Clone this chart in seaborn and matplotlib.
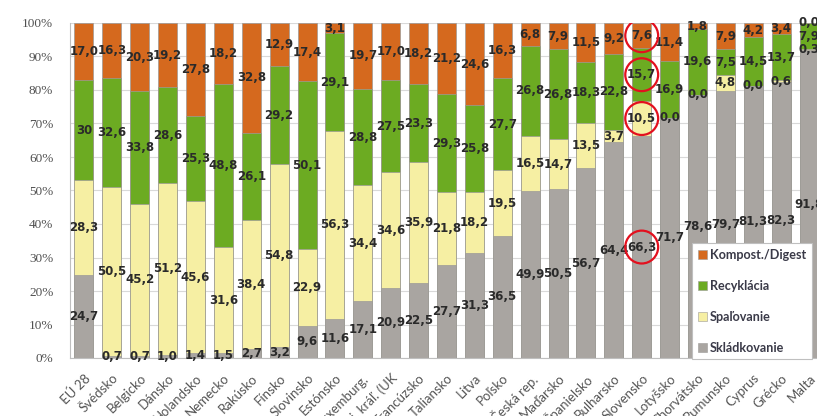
import matplotlib
matplotlib.use("Agg")
import matplotlib.pyplot as plt
import numpy as np
import pandas as pd
import seaborn as sns
from matplotlib.patches import Patch

# Municipal waste treatment shares by country (%)
countries = ["EÚ 28", "Švédsko", "Belgicko", "Dánsko", "Holandsko", "Nemecko",
             "Rakúsko", "Fínsko", "Slovinsko", "Estónsko", "Luxemburg.",
             "Spoj. kráľ. (UK", "Francúzsko", "Taliansko", "Litva", "Poľsko",
             "Česká rep.", "Maďarsko", "Španielsko", "Bulharsko", "Slovensko",
             "Lotyšsko", "Chorvátsko", "Rumunsko", "Cyprus", "Grécko", "Malta"]

landfill = [24.7, 0.7, 0.7, 1.0, 1.4, 1.5, 2.7, 3.2, 9.6, 11.6, 17.1, 20.9, 22.5,
            27.7, 31.3, 36.5, 49.9, 50.5, 56.7, 64.4, 66.3, 71.7, 78.6, 79.7,
            81.3, 82.3, 91.8]
incineration = [28.3, 50.5, 45.2, 51.2, 45.6, 31.6, 38.4, 54.8, 22.9, 56.3, 34.4,
                34.6, 35.9, 21.8, 18.2, 19.5, 16.5, 14.7, 13.5, 3.7, 10.5, 0.0,
                0.0, 4.8, 0.0, 0.6, 0.3]
recycling = [30, 32.6, 33.8, 28.6, 25.3, 48.8, 26.1, 29.2, 50.1, 29.1, 28.8, 27.5,
             23.3, 29.3, 25.8, 27.7, 26.8, 26.8, 18.3, 22.8, 15.7, 16.9, 19.6,
             7.5, 14.5, 13.7, 7.9]
compost = [17.0, 16.3, 20.3, 19.2, 27.8, 18.2, 32.8, 12.9, 17.4, 3.1, 19.7, 17.0,
           18.2, 21.2, 24.6, 16.3, 6.8, 7.9, 11.5, 9.2, 7.6, 11.4, 1.8, 7.9, 4.2,
           3.4, 0.0]

layer_names = ["Skládkovanie", "Spaľovanie", "Recyklácia", "Kompost./Digest"]
layer_values = [landfill, incineration, recycling, compost]
layer_colors = ["#A9A5A1", "#F6EFA3", "#6CAB22", "#D5691E"]

# labels shown without a decimal part
whole_labels = {("EÚ 28", "Recyklácia")}
# country whose labels are ringed in red
ringed = "Slovensko"

df = pd.DataFrame({"country": countries})
for name, vals in zip(layer_names, layer_values):
    df[name] = vals
totals = df[layer_names].sum(axis=1)
shares = df[layer_names].div(totals, axis=0) * 100
cum = shares.cumsum(axis=1)

sns.set_theme(style="white")
fig = plt.figure(figsize=(8.17, 4.16), dpi=100)
ax = fig.add_axes([70 / 817, 58 / 416, 753 / 817, 335 / 416])

# stacked bars: draw cumulative heights from the top layer down
for name, color in reversed(list(zip(layer_names, layer_colors))):
    sns.barplot(x=df["country"], y=cum[name], color=color, saturation=1,
                width=0.68, edgecolor="#9C9A98", linewidth=0.5, ax=ax,
                order=countries)

# value labels centred in each segment
ring_pos = []
for name in layer_names:
    bottoms = cum[name] - shares[name]
    for i, c in enumerate(countries):
        v = df.loc[i, name]
        y = bottoms[i] + shares.loc[i, name] / 2
        if (c, name) in whole_labels:
            txt = f"{v:.0f}"
        else:
            txt = f"{v:.1f}".replace(".", ",")
        ax.text(i, y, txt, ha="center", va="center", fontsize=8.5,
                fontweight="bold", color="#2A2A2A", zorder=5)
        if c == ringed:
            ring_pos.append((i, y))

rx = [p[0] for p in ring_pos]
ry = [p[1] for p in ring_pos]
ax.scatter(rx, ry, s=560, facecolors="none", edgecolors="#E3101E",
           linewidths=1.6, zorder=6)

ax.set_xlim(-0.5, len(countries) - 0.5)
ax.set_ylim(0, 100)
ax.set_yticks(np.arange(0, 101, 10))
ax.set_yticklabels([f"{t}%" for t in range(0, 101, 10)],
                   family="Liberation Serif", fontsize=9.5, color="#505050")
ax.set_xlabel("")
ax.set_ylabel("")
ax.set_xticks(range(len(countries)))
ax.set_xticklabels(countries, rotation=45, ha="right", rotation_mode="anchor",
                   family="Lato", fontsize=9.5, color="#555555")
ax.tick_params(axis="both", length=0)
ax.tick_params(axis="y", pad=12)
ax.tick_params(axis="x", pad=10)
ax.yaxis.grid(True, color="#D9D9D9", linewidth=0.8)
ax.set_axisbelow(True)
for side in ["top", "right"]:
    ax.spines[side].set_visible(False)
for side in ["left", "bottom"]:
    ax.spines[side].set_color("#BFBFBF")
    ax.spines[side].set_linewidth(0.8)

handles = [Patch(facecolor=col, edgecolor="#9C9A98", linewidth=0.4, label=n)
           for n, col in reversed(list(zip(layer_names, layer_colors)))]
leg = fig.legend(handles=handles, loc="upper left",
                 bbox_to_anchor=(692 / 817, 1 - 243 / 416),
                 frameon=True, fancybox=False, framealpha=1, edgecolor="#BFBFBF",
                 labelspacing=1.5, handlelength=0.7, handleheight=0.7,
                 handletextpad=0.25, borderpad=0.45, borderaxespad=0,
                 prop={"family": "Lato", "size": 9.1, "weight": "bold"})
for t in leg.get_texts():
    t.set_color("#3A3A48")
leg.get_frame().set_linewidth(0.8)

fig.savefig("out.png", dpi=100)
